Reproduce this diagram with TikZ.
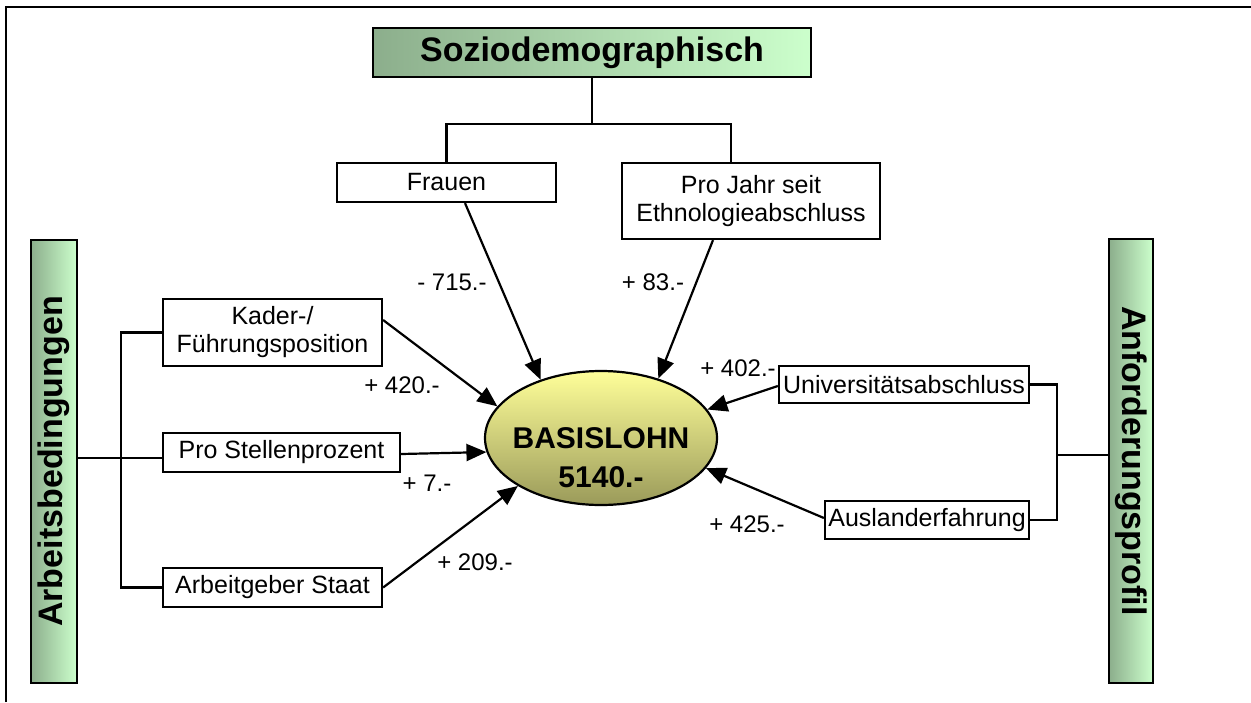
\documentclass[tikz,border=0pt]{standalone}
\usepackage{fontspec}
\setmainfont{Liberation Sans}
\usetikzlibrary{arrows.meta,shapes.geometric}

\definecolor{gdark}{HTML}{8CAE8C}
\definecolor{glight}{HTML}{CCFFCC}
\definecolor{ytop}{HTML}{FFFF99}
\definecolor{ybot}{HTML}{9A9A5A}

\begin{document}
\begin{tikzpicture}[x=1pt,y=-1pt,
  box/.style={draw, line width=2.2pt, fill=white, inner sep=0pt, align=center,
    font=\fontsize{25}{28}\selectfont},
  titlebox/.style={draw, line width=2.2pt, inner sep=0pt, align=center,
    font=\fontsize{34}{38}\selectfont\bfseries},
  lbl/.style={inner sep=0pt, font=\fontsize{24}{28}\selectfont},
  con/.style={line width=2.2pt},
  arr/.style={line width=2.2pt, -{Triangle[length=20pt,width=17pt]}},
]
\useasboundingbox (0,0) rectangle (1251,702);

% frame
\draw[line width=2.6pt] (6,702) -- (6,7) -- (1251,7);

% title boxes
\node[titlebox, left color=gdark, right color=glight,
      minimum width=438pt, minimum height=49pt] (sozio) at (592,52.5) {Soziodemographisch};
\node[titlebox, rotate=90, left color=gdark, right color=glight,
      minimum width=443pt, minimum height=46pt] (lbar) at (54,461.5) {Arbeitsbedingungen};
\node[titlebox, rotate=-90, left color=gdark, right color=glight,
      minimum width=444pt, minimum height=44pt] (rbar) at (1131,461) {Anforderungsprofil};

% factor boxes
\node[box, minimum width=219pt, minimum height=39pt] (frauen) at (446.5,182.5) {Frauen};
\node[box, minimum width=258pt, minimum height=76pt] (projahr) at (751,201) {Pro Jahr seit\\Ethnologieabschluss};
\node[box, minimum width=219pt, minimum height=67pt] (kader) at (272.5,332.5) {Kader-/\\Führungsposition};
\node[box, minimum width=237pt, minimum height=39pt] (prostellen) at (281.5,452.5) {Pro Stellenprozent};
\node[box, minimum width=219pt, minimum height=39pt] (arbeitgeber) at (272.5,587.5) {Arbeitgeber Staat};
\node[box, minimum width=250pt, minimum height=37pt] (univ) at (904,384.5) {Universitätsabschluss};
\node[box, minimum width=204pt, minimum height=38pt] (ausland) at (927,520) {Auslanderfahrung};

% central ellipse
\node[ellipse, draw, line width=2.2pt, inner sep=0pt, top color=ytop, bottom color=ybot,
      minimum width=232pt, minimum height=134pt] (ell) at (601,438) {};
\node[inner sep=0pt, align=center, font=\fontsize{30}{39}\selectfont\bfseries] (basis) at (601,457.5) {BASISLOHN\\5140.-};

% tree connectors
\coordinate (jt) at (592,124);
\coordinate (jr) at (731,124);
\draw[con] (sozio.south) -- (jt);
\draw[con] (frauen.north) |- (jr) -- (jr |- projahr.north);

\coordinate (lv) at (121,458);
\draw[con] (kader.west) -| (lv) |- (arbeitgeber.west);
\draw[con] (lbar.south |- lv) -- (lv -| prostellen.west);

\coordinate (rv) at (1057,455);
\draw[con] (univ.east) -| (rv) |- (ausland.east);
\draw[con] (rv) -- (rv -| rbar.south);

% arrows into the ellipse
\draw[arr] ([xshift=18.5pt]frauen.south) -- (ell.136.4);
\draw[arr] ([xshift=-38pt]projahr.south) -- (ell.46);
\draw[arr] ([yshift=12.5pt]kader.east) -- (ell.163.7);
\draw[arr] ([yshift=-1.5pt]prostellen.east) -- (ell.187.5);
\draw[arr] (arbeitgeber.east) -- (ell.210.6);
\draw[arr] ([yshift=-1.5pt]univ.west) -- (ell.15.6);
\draw[arr] ([yshift=2pt]ausland.west) -- (ell.-16);

% value labels
\node[lbl] (m715) at (452,282) {- 715.-};
\node[lbl] (p83) at (653,282) {+ 83.-};
\node[lbl] (p420) at (402,385) {+ 420.-};
\node[lbl] (p7) at (427,483) {+ 7.-};
\node[lbl] (p209) at (475,562) {+ 209.-};
\node[lbl] (p402) at (738,368) {+ 402.-};
\node[lbl] (p425) at (747,524) {+ 425.-};
\end{tikzpicture}
\end{document}
